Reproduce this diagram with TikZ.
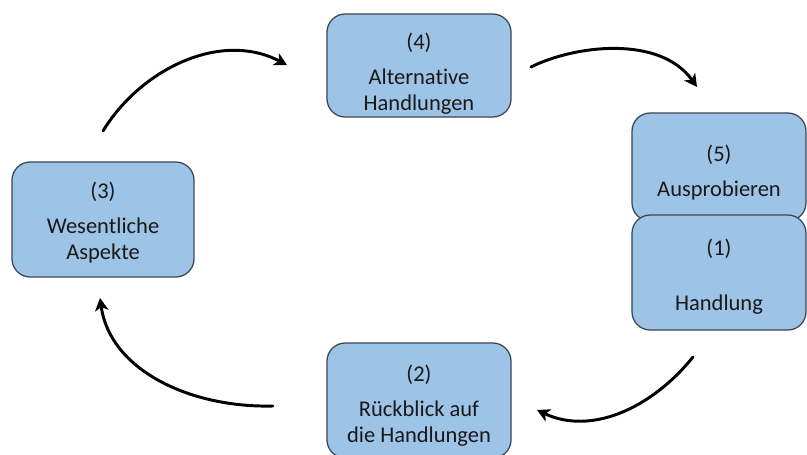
\documentclass[tikz,border=0pt]{standalone}
\usepackage{fontspec}
\setmainfont{Carlito}[Ligatures=NoCommon]
\usetikzlibrary{arrows.meta}
\definecolor{boxfill}{RGB}{157,195,230}
\definecolor{boxline}{RGB}{60,70,85}
% erste Zeile etwas hoeher machen, damit der Text tiefer sitzt
\newcommand{\kopfzeile}[2]{\raisebox{0pt}[\dimexpr\height+#1\relax]{#2}}
\tikzset{
  kasten/.style={draw=boxline,fill=boxfill,line width=0.9pt,rounded corners=13pt,
    inner sep=0pt,align=center,text=black!90,font=\fontsize{16}{18.4}\selectfont},
  bogen/.style={->,line width=2.1pt,line cap=round},
}
\begin{document}
\begin{tikzpicture}[x=0.025cm,y=-0.025cm,line join=round,>={Stealth[length=9pt,width=9.5pt,inset=2.5pt]}]
\useasboundingbox (0,0) rectangle (807,454);

% Kaesten
\node[kasten,minimum width=4.6cm,minimum height=2.575cm] (b4) at (419,65.5) {\kopfzeile{11.4pt}{(4)}\\[6.4pt]Alternative\\Handlungen};
\node[kasten,minimum width=4.55cm,minimum height=2.875cm] (b3) at (103,219.5) {\kopfzeile{4.3pt}{(3)}\\[6.4pt]Wesentliche\\Aspekte};
\node[kasten,minimum width=4.35cm,minimum height=2.7cm] (b5) at (719,167) {\kopfzeile{8.5pt}{(5)}\\[6.4pt]Ausprobieren};
\node[kasten,minimum width=4.35cm,minimum height=2.875cm] (b1) at (719,272.5) {\kopfzeile{5.7pt}{(1)}\\[20.6pt]Handlung};
\node[kasten,minimum width=4.6cm,minimum height=2.875cm] (b2) at (419,400.5) {\kopfzeile{7pt}{(2)}\\[6.4pt]R\"uckblick auf\\die Handlungen};

    \coordinate (p3) at (103,131);
    \coordinate (p4) at (287,65);
    \coordinate (p4r) at (531,67);
    \coordinate (p5) at (697,87);
    \coordinate (p1) at (693,357);
    \coordinate (p2) at (537,410);
    \coordinate (p2l) at (273,406);
    \coordinate (p3u) at (100,298);

% Pfeile
\draw[bogen] (p3) .. controls (140,70) and (220,30) .. (p4);
\draw[bogen] (p4r) .. controls (575,45) and (660,35) .. (p5);
\draw[bogen] (p1) .. controls (650,410) and (590,435) .. (p2);
\draw[bogen] (p2l) .. controls (190,408) and (110,370) .. (p3u);
  \end{tikzpicture}
\end{document}
